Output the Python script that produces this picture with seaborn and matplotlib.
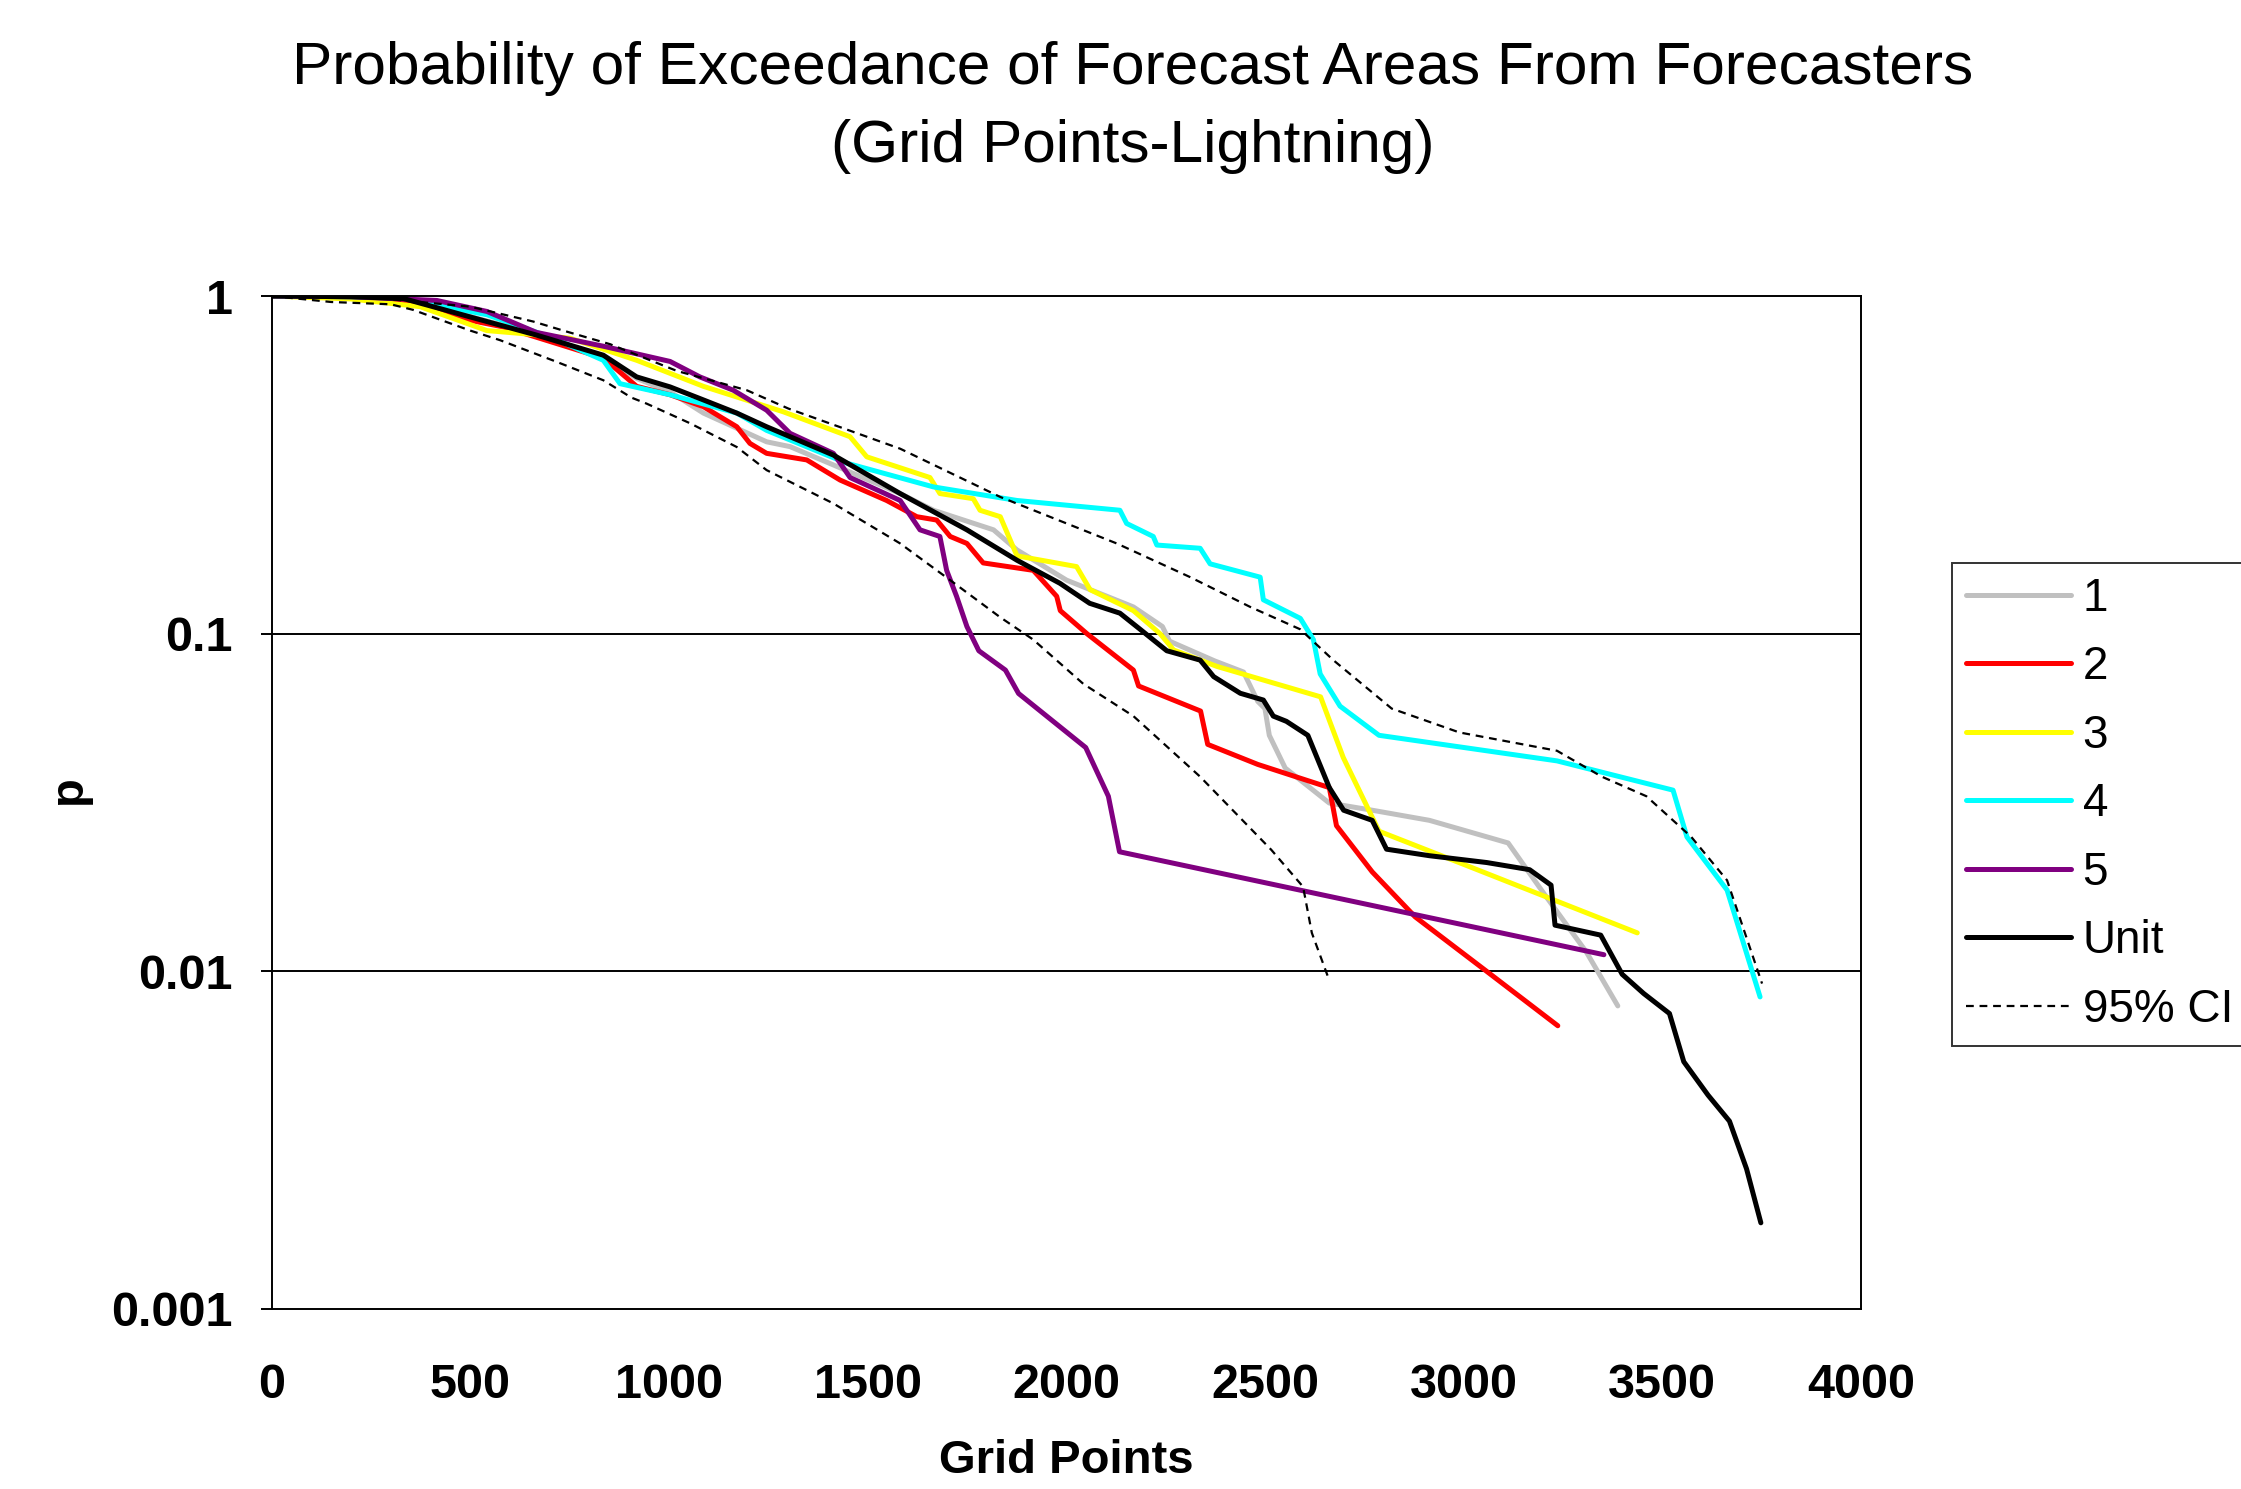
import matplotlib
matplotlib.use("Agg")
import matplotlib.pyplot as plt
import seaborn as sns
import pandas as pd
from matplotlib.ticker import FixedLocator, NullLocator, FixedFormatter

# ---------------- data ----------------
x_unit = [0, 200, 332, 500, 667, 835, 919, 1003, 1078, 1171, 1246, 1414, 1582, 1750, 1876, 1984,
          2059, 2135, 2186, 2253, 2337, 2371, 2438, 2496, 2521, 2554, 2608, 2662, 2698, 2770,
          2806, 2914, 3058, 3166, 3220, 3230, 3345, 3399, 3453, 3518, 3554, 3615, 3669, 3712, 3748]
p_unit = [1.0, 0.995, 0.983, 0.867, 0.766, 0.668, 0.576, 0.538, 0.497, 0.45, 0.41, 0.338, 0.26,
          0.203, 0.165, 0.141, 0.123, 0.115, 0.103, 0.089, 0.0835, 0.0746, 0.0666, 0.0636, 0.057,
          0.055, 0.05, 0.035, 0.03, 0.028, 0.023, 0.022, 0.021, 0.02, 0.018, 0.0137, 0.0128,
          0.0098, 0.0086, 0.0075, 0.0054, 0.0043, 0.0036, 0.0026, 0.0018]

x_1 = [0, 200, 332, 500, 667, 835, 919, 1003, 1087, 1246, 1305, 1414, 1582, 1666, 1817, 1876,
       2001, 2169, 2242, 2260, 2374, 2446, 2482, 2500, 2511, 2551, 2662, 2770, 2914, 3112, 3202,
       3309, 3388]
p_1 = [1.0, 0.995, 0.98, 0.87, 0.77, 0.66, 0.57, 0.52, 0.45, 0.37, 0.358, 0.316, 0.26, 0.232,
       0.203, 0.177, 0.144, 0.12, 0.105, 0.095, 0.083, 0.077, 0.063, 0.06, 0.05, 0.04, 0.0315,
       0.03, 0.028, 0.024, 0.017, 0.0114, 0.0079]

x_2 = [0, 200, 332, 457, 583, 835, 919, 1003, 1087, 1171, 1204, 1246, 1347, 1431, 1548, 1624,
       1674, 1708, 1750, 1791, 1917, 1976, 1985, 2052, 2169, 2182, 2338, 2356, 2482, 2662, 2680,
       2770, 2878, 3058, 3237]
p_2 = [1.0, 0.99, 0.97, 0.867, 0.81, 0.655, 0.54, 0.51, 0.47, 0.41, 0.366, 0.342, 0.327, 0.285,
       0.248, 0.222, 0.217, 0.194, 0.185, 0.162, 0.154, 0.129, 0.117, 0.1, 0.078, 0.07, 0.059,
       0.047, 0.041, 0.035, 0.027, 0.0197, 0.0145, 0.01, 0.0069]

x_3 = [0, 200, 374, 542, 625, 751, 919, 1087, 1288, 1456, 1498, 1657, 1682, 1766, 1783, 1834,
       1876, 2026, 2060, 2169, 2236, 2270, 2379, 2640, 2697, 2787, 3011, 3437]
p_3 = [1.0, 0.98, 0.93, 0.79, 0.775, 0.75, 0.645, 0.54, 0.454, 0.383, 0.334, 0.29, 0.26, 0.251,
       0.232, 0.222, 0.17, 0.158, 0.135, 0.117, 0.1, 0.0895, 0.08, 0.065, 0.043, 0.026, 0.0205,
       0.013]

x_4 = [0, 200, 332, 542, 709, 835, 877, 1003, 1171, 1246, 1447, 1666, 1876, 2135, 2152, 2219,
       2228, 2337, 2362, 2488, 2496, 2589, 2622, 2639, 2689, 2787, 3235, 3527, 3562, 3663, 3746]
p_4 = [1.0, 0.995, 0.985, 0.88, 0.75, 0.645, 0.55, 0.51, 0.45, 0.40, 0.32, 0.272, 0.248, 0.232,
       0.212, 0.194, 0.183, 0.179, 0.161, 0.147, 0.126, 0.111, 0.096, 0.076, 0.061, 0.05, 0.042,
       0.0344, 0.025, 0.0174, 0.0084]

x_5 = [0, 200, 416, 542, 667, 835, 1003, 1078, 1162, 1246, 1305, 1414, 1456, 1582, 1632, 1682,
       1699, 1724, 1750, 1780, 1847, 1880, 2049, 2106, 2134, 3353]
p_5 = [1.0, 0.995, 0.97, 0.90, 0.78, 0.71, 0.64, 0.576, 0.526, 0.459, 0.392, 0.342, 0.29, 0.248,
       0.203, 0.194, 0.154, 0.129, 0.105, 0.089, 0.078, 0.0665, 0.046, 0.033, 0.0226, 0.0112]

x_ci_hi = [0, 250, 500, 659, 734, 852, 1020, 1196, 1301, 1582, 1834, 2001, 2127, 2312, 2463,
           2589, 2672, 2819, 2989, 3235, 3348, 3460, 3573, 3663, 3751]
p_ci_hi = [1.0, 0.99, 0.93, 0.84, 0.79, 0.72, 0.60, 0.526, 0.464, 0.353, 0.254, 0.212, 0.185,
           0.147, 0.12, 0.103, 0.0835, 0.06, 0.051, 0.045, 0.0377, 0.033, 0.025, 0.0186, 0.0092]

x_ci_lo = [0, 150, 300, 356, 500, 575, 718, 835, 906, 944, 1053, 1171, 1246, 1414, 1582, 1708,
           1833, 1917, 2043, 2169, 2337, 2516, 2596, 2618, 2662]
p_ci_lo = [1.0, 0.96, 0.945, 0.91, 0.79, 0.74, 0.638, 0.563, 0.50, 0.48, 0.42, 0.357, 0.305,
           0.243, 0.185, 0.144, 0.112, 0.096, 0.071, 0.057, 0.0377, 0.0229, 0.0178, 0.013, 0.0094]

series_names = ["1", "2", "3", "4", "5", "Unit"]
series_x = [x_1, x_2, x_3, x_4, x_5, x_unit]
series_p = [p_1, p_2, p_3, p_4, p_5, p_unit]
series_colors = ["#C0C0C0", "#FF0000", "#FFFF00", "#00FFFF", "#800080", "#000000"]

x_ticks = [0, 500, 1000, 1500, 2000, 2500, 3000, 3500, 4000]
y_ticks = [0.001, 0.01, 0.1, 1]
y_tick_labels = ["0.001", "0.01", "0.1", "1"]

title_line1 = "Probability of Exceedance of Forecast Areas From Forecasters"
title_line2 = "(Grid Points-Lightning)"

# ---------------- figure ----------------
sns.set_style("white")
plt.rcParams["font.family"] = ["Liberation Sans", "DejaVu Sans"]
plt.rcParams["text.color"] = "black"

W, H = 2241, 1489
fig = plt.figure(figsize=(W / 100, H / 100), dpi=100)
L, R, T, B = 271.5, 1861, 296, 1309
ax = fig.add_axes([L / W, 1 - B / H, (R - L) / W, (B - T) / H])

for name, xs, ps, c in zip(series_names, series_x, series_p, series_colors):
    df = pd.DataFrame({"x": xs, "p": ps})
    sns.lineplot(data=df, x="x", y="p", ax=ax, color=c, lw=3.6, sort=False,
                 estimator=None, label=name)

dash = (0, (3.5, 2.6))
df_hi = pd.DataFrame({"x": x_ci_hi, "p": p_ci_hi})
df_lo = pd.DataFrame({"x": x_ci_lo, "p": p_ci_lo})
sns.lineplot(data=df_hi, x="x", y="p", ax=ax, color="black", lw=1.6, sort=False,
             estimator=None, label="95% CI", linestyle=dash)
sns.lineplot(data=df_lo, x="x", y="p", ax=ax, color="black", lw=1.6, sort=False,
             estimator=None, linestyle=dash, legend=False)

ax.set_yscale("log")
ax.set_ylim(0.001, 1)
ax.set_xlim(0, 4000)
ax.yaxis.set_major_locator(FixedLocator(y_ticks))
ax.yaxis.set_major_formatter(FixedFormatter(y_tick_labels))
ax.yaxis.set_minor_locator(NullLocator())
ax.xaxis.set_major_locator(FixedLocator(x_ticks))
ax.set_xlabel("")
ax.set_ylabel("")

for yv in [0.01, 0.1]:
    ax.axhline(yv, color="black", lw=1.4, zorder=0.5)

for s in ax.spines.values():
    s.set_visible(True)
    s.set_color("black")
    s.set_linewidth(1.4)

ax.tick_params(axis="both", which="major", direction="out", length=8, width=1.4,
               color="black", labelsize=35, labelcolor="black")
ax.tick_params(axis="x", pad=31)
ax.tick_params(axis="y", pad=20, left=True)
for lab in ax.get_xticklabels() + ax.get_yticklabels():
    lab.set_fontweight("bold")

# legend, partly outside the figure as in the reference
ax.get_legend().remove()
handles, labels = ax.get_legend_handles_labels()
leg = fig.legend(handles, labels, loc="upper left",
                 bbox_to_anchor=(1952 / W, 1 - 563 / H), bbox_transform=fig.transFigure,
                 borderaxespad=0, frameon=True, fancybox=False, fontsize=33,
                 handlelength=2.3, handletextpad=0.25, labelspacing=0.535, borderpad=0.3)
leg.get_frame().set_edgecolor("black")
leg.get_frame().set_linewidth(1.4)
for h in leg.get_lines()[:-1]:
    h.set_linewidth(3.6)

fig.text(1133 / W, 1 - 68 / H, title_line1, ha="center", va="center", fontsize=43.5,
         color="black")
fig.text(1133 / W, 1 - 147 / H, title_line2, ha="center", va="center", fontsize=43.5,
         color="black")
fig.text(1066 / W, 1 - 1461 / H, "Grid Points", ha="center", va="center", fontsize=34,
         fontweight="bold", color="black")
fig.text(69 / W, 1 - 790 / H, "p", ha="center", va="center", fontsize=34,
         fontweight="bold", rotation=90, color="black")

fig.savefig("out.png", dpi=100)
